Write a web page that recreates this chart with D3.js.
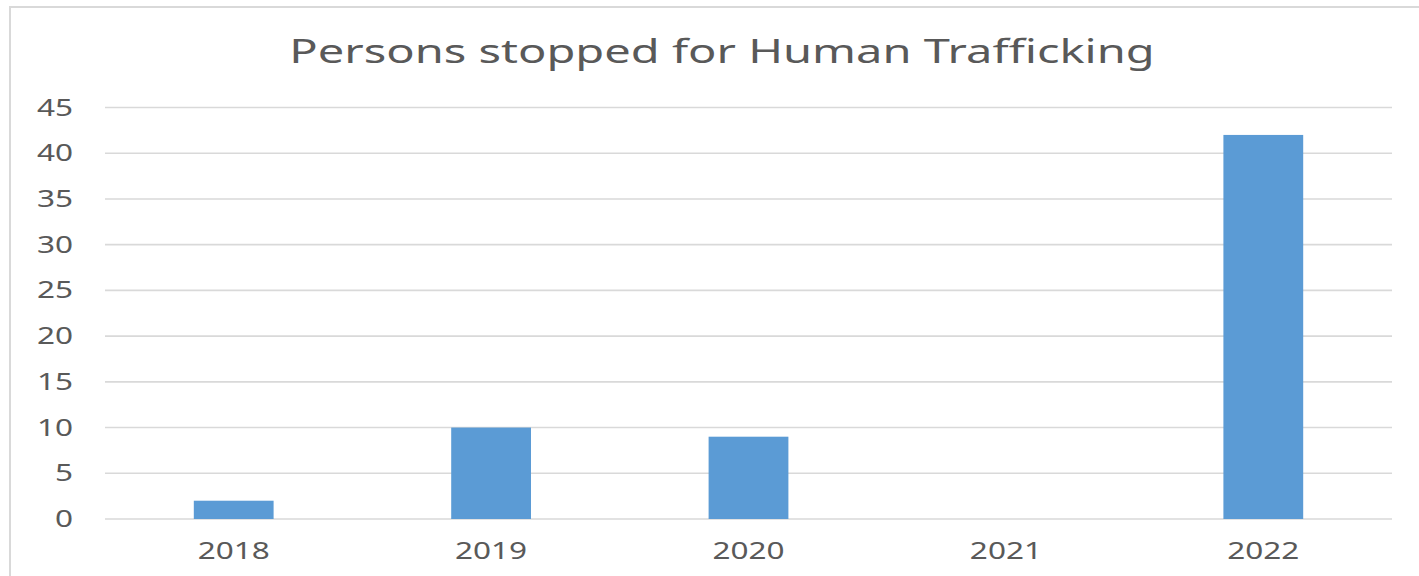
<!DOCTYPE html>
<html>
<head>
<meta charset="utf-8">
<script src="https://cdn.jsdelivr.net/npm/d3@7"></script>
<style>
  body { margin: 0; background: #fff; }
  svg { display: block; }
  text { font-family: "Noto Sans", "Open Sans", sans-serif; fill: #595959; }
</style>
</head>
<body>
<script>
var years = ['2018', '2019', '2020', '2021', '2022']
var persons = [2, 10, 9, 0, 42]
var yTicks = [0, 5, 10, 15, 20, 25, 30, 35, 40, 45]
var title = 'Persons stopped for Human Trafficking'

var width = 1419, height = 576
// the picture is stretched sideways, so text is too
var stretch = 1.37

var svg = d3.select('body').append('svg')
    .attr('width', width)
    .attr('height', height)

// chart border (right and bottom fall outside the crop)
svg.append('rect')
    .attr('x', 10).attr('y', 7)
    .attr('width', 1450).attr('height', 600)
    .attr('fill', 'none')
    .attr('stroke', '#d9d9d9')
    .attr('stroke-width', 2)

var x = d3.scaleBand()
    .domain(years)
    .range([105, 1392])
    .paddingInner(0.69)
    .paddingOuter(0.345)

var y = d3.scaleLinear()
    .domain([0, 45])
    .range([519, 107.5])

// gridlines
svg.append('g')
  .selectAll('line')
  .data(yTicks)
  .join('line')
    .attr('x1', 105).attr('x2', 1392)
    .attr('y1', function(d){ return y(d) })
    .attr('y2', function(d){ return y(d) })
    .attr('stroke', '#d9d9d9')
    .attr('stroke-width', 1.6)

// y labels
svg.append('g')
  .selectAll('text')
  .data(yTicks)
  .join('text')
    .attr('transform', function(d){ return 'translate(73,' + (y(d) + 8) + ') scale(' + stretch + ',1)' })
    .attr('text-anchor', 'end')
    .attr('font-size', 23)
    .text(function(d){ return d })

// bars
svg.append('g')
  .selectAll('rect')
  .data(years)
  .join('rect')
    .attr('x', function(d){ return x(d) })
    .attr('width', x.bandwidth())
    .attr('y', function(d, i){ return y(persons[i]) })
    .attr('height', function(d, i){ return y(0) - y(persons[i]) })
    .attr('fill', '#5b9bd5')

// x labels
svg.append('g')
  .selectAll('text')
  .data(years)
  .join('text')
    .attr('transform', function(d){ return 'translate(' + (x(d) + x.bandwidth() / 2) + ',559) scale(' + stretch + ',1)' })
    .attr('text-anchor', 'middle')
    .attr('font-size', 23)
    .text(function(d){ return d })

svg.append('text')
    .attr('transform', 'translate(722,63) scale(1.47,1)')
    .attr('text-anchor', 'middle')
    .attr('font-size', 32)
    .text(title)
</script>
</body>
</html>
